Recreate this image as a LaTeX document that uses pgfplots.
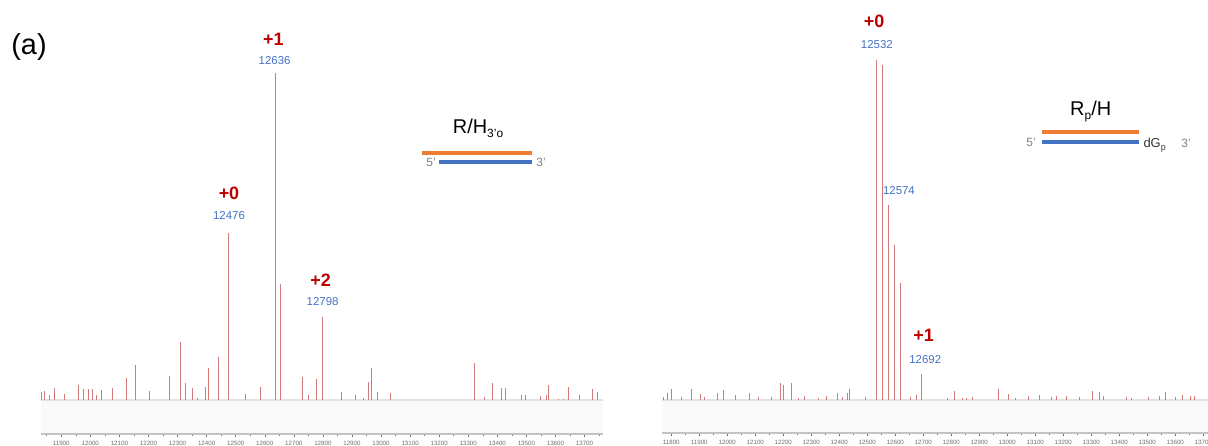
\documentclass[border=0pt]{standalone}
\usepackage{pgfplots}
\usepackage{pgfplotstable}
\pgfplotsset{compat=1.18}
\usepackage{fontspec}
\setmainfont{Liberation Sans}

\definecolor{peak}{RGB}{210,122,122}
\definecolor{lblred}{RGB}{192,0,0}
\definecolor{lblblue}{RGB}{68,114,196}
\definecolor{strandorange}{RGB}{237,125,49}
\definecolor{strandblue}{RGB}{68,114,196}
\definecolor{tickgray}{RGB}{110,110,110}
\definecolor{axisgray}{RGB}{195,195,195}
\definecolor{basegray}{RGB}{226,226,226}
\definecolor{bandgray}{RGB}{250,250,250}
\definecolor{primegray}{RGB}{130,130,130}

% deconvoluted spectrum, sample R/H3'o : mass (Da), relative intensity (%)
\pgfplotstableread{
mass  rel
11833 2.5
11844 2.8
11860 1.5
11877 3.7
11912 1.8
11958 4.7
11975 3.4
11994 3.4
12008 3.4
12022 1.5
12040 3.1
12075 3.7
12123 6.7
12157 10.8
12202 2.8
12274 7.3
12311 17.8
12328 5.3
12351 3.7
12367 0.6
12397 4.0
12407 9.8
12440 13.2
12476 51.1
12533 1.9
12586 4.0
12636 100
12654 35.5
12729 6.9
12750 1.4
12779 6.5
12798 25.3
12865 2.4
12911 1.5
12938 0.7
12958 5.4
12968 9.9
12989 2.5
13031 2.2
13323 11.3
13357 1.0
13384 5.2
13415 3.7
13429 3.8
13482 1.6
13496 1.6
13550 1.1
13569 1.5
13577 4.6
13611 0.3
13627 0.3
13646 3.9
13684 1.5
13726 3.5
13746 2.4
}\specA

% deconvoluted spectrum, sample Rp/H
\pgfplotstableread{
mass  rel
11771 0.6
11787 1.8
11800 3.0
11837 0.7
11873 3.0
11903 1.6
11918 0.7
11964 2.0
11988 2.7
12031 1.3
12081 1.8
12113 0.7
12159 0.7
12189 4.9
12201 4.2
12230 4.8
12255 0.4
12274 0.9
12325 0.4
12356 1.1
12395 2.0
12411 0.7
12431 1.8
12438 3.0
12494 0.8
12532 100
12554 98.3
12574 57.2
12596 45.4
12618 34.2
12653 0.7
12676 1.3
12692 7.5
12787 0.4
12811 2.5
12839 0.3
12856 0.3
12874 0.6
12968 3.2
13005 1.5
13028 0.4
13074 0.9
13114 1.3
13159 0.6
13176 0.9
13212 0.9
13257 0.6
13304 2.5
13329 2.1
13344 1.0
13426 0.6
13444 0.4
13505 0.6
13545 0.9
13566 2.2
13599 0.6
13626 1.2
13653 0.9
13668 1.0
}\specB

\pgfplotsset{
  spectrum/.style={
    scale only axis,
    axis x line*=bottom,
    axis y line=none,
    x axis line style={draw=axisgray, line width=1.2bp},
    tick style={draw=tickgray, line width=0.5bp},
    major tick length=3bp,
    minor tick length=1.5bp,
    tick align=outside,
    xtick distance=100,
    minor x tick num=1,
    scaled x ticks=false,
    xticklabel style={font=\fontsize{6.2}{7}\selectfont, text=tickgray,
      yshift=-1bp, /pgf/number format/1000 sep={}},
    /pgf/number format/assume math mode=true,
    clip=false,
  },
  peaks/.style={ycomb, draw=peak, line width=1bp, mark=none},
}
\tikzset{
  charge/.style={font=\bfseries\fontsize{18}{18}\selectfont, text=lblred},
  massval/.style={font=\fontsize{11.5}{12}\selectfont, text=lblblue},
}

\begin{document}
\begin{tikzpicture}
\useasboundingbox (0,0) rectangle (1208bp,446bp);

% ---------------- left spectrum ----------------
\begin{axis}[spectrum,
  at={(41bp,12bp)}, anchor=south west,
  width=562bp, height=404bp,
  xmin=11830.3, xmax=13763.6, ymin=-10.4, ymax=113.1]
  \fill[bandgray] (axis cs:11830.3,-10.1) rectangle (axis cs:13763.6,0);
  \draw[basegray, line width=2bp] (axis cs:11830.3,0) -- (axis cs:13763.6,0);
  \addplot[peaks] table[x=mass, y=rel] {\specA};
  \node[charge]  at (axis cs:12630,110.2) {+1};
  \node[massval] at (axis cs:12634,103.8) {12636};
  \node[charge]  at (axis cs:12477,63.3) {+0};
  \node[massval] at (axis cs:12477,56.3) {12476};
  \node[charge]  at (axis cs:12792,36.7) {+2};
  \node[massval] at (axis cs:12799,30.0) {12798};
\end{axis}

% ---------------- right spectrum ----------------
\begin{axis}[spectrum,
  at={(662bp,13bp)}, anchor=south west,
  width=568bp, height=423.1bp,
  xmin=11766.8, xmax=13795.4, ymin=-9.85, ymax=114.6]
  \fill[bandgray] (axis cs:11766.8,-9.55) rectangle (axis cs:13795.4,0);
  \draw[basegray, line width=2bp] (axis cs:11766.8,0) -- (axis cs:13795.4,0);
  \addplot[peaks] table[x=mass, y=rel] {\specB};
  \node[charge]  at (axis cs:12524,111.1) {+0};
  \node[massval] at (axis cs:12534,104.3) {12532};
  \node[massval] at (axis cs:12613,61.6) {12574};
  \node[charge]  at (axis cs:12701,19.0) {+1};
  \node[massval] at (axis cs:12707,11.7) {12692};
\end{axis}

% panel tag
\node[font=\fontsize{29}{31}\selectfont] at (29bp,398.5bp) {(a)};

% duplex schematic, left
\node[anchor=base west, inner sep=0pt, font=\fontsize{20}{22}\selectfont]
  at (452.7bp,312.7bp) {R/H\raisebox{-4bp}{\fontsize{12}{12}\selectfont 3'o}};
\draw[strandorange, line width=4bp] (421.7bp,293.3bp) -- (532.3bp,293.3bp);
\draw[strandblue, line width=4bp] (439.3bp,284bp) -- (532.3bp,284bp);
\node[font=\fontsize{12}{12}\selectfont, text=primegray] at (431bp,284bp) {5'};
\node[font=\fontsize{12}{12}\selectfont, text=primegray] at (541bp,284bp) {3'};

% duplex schematic, right
\node[anchor=base west, inner sep=0pt, font=\fontsize{20}{22}\selectfont]
  at (1070bp,330bp) {R\raisebox{-4bp}{\fontsize{12}{12}\selectfont p}/H};
\draw[strandorange, line width=4bp] (1042.3bp,314.3bp) -- (1139.3bp,314.3bp);
\draw[strandblue, line width=4bp] (1042.3bp,304.3bp) -- (1139.3bp,304.3bp);
\node[font=\fontsize{12}{12}\selectfont, text=primegray] at (1031bp,304bp) {5'};
\node[anchor=base west, inner sep=0pt, font=\fontsize{13}{13}\selectfont, text=black!80]
  at (1143.3bp,298.5bp) {dG\raisebox{-3bp}{\fontsize{9}{9}\selectfont p}};
\node[font=\fontsize{12}{12}\selectfont, text=primegray] at (1186bp,303bp) {3'};
\end{tikzpicture}
\end{document}
